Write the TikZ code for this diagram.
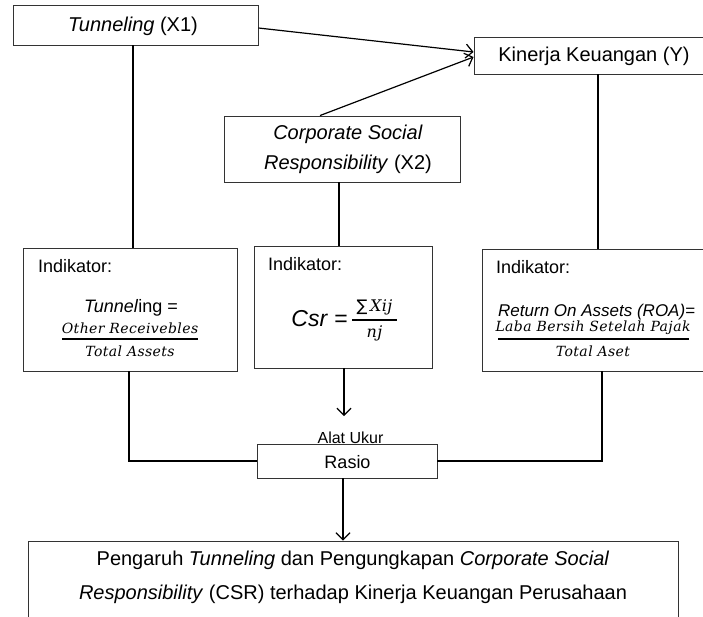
\documentclass[tikz,border=0pt]{standalone}
\usepackage{fontspec}
\setmainfont{Liberation Sans}
\newfontfamily\mfont[LetterSpace=3]{DejaVu Serif}
\newfontfamily\symfont{DejaVu Sans}
\usetikzlibrary{arrows.meta}
\begin{document}
\begin{tikzpicture}[x=1pt,y=-1pt,
 box/.style={draw=black!80,line width=0.9pt,inner sep=0pt,rectangle},
 conn/.style={line width=1.2pt,black},
 arr/.style={conn,-{Straight Barb[length=7pt,width=14pt,line width=1.2pt]}},
 bar/.style={line width=1.5pt,black},
 txt/.style={inner sep=0pt,font=\fontsize{20}{24}\selectfont},
 ind/.style={inner sep=0pt,anchor=west,font=\fontsize{18}{22}\selectfont},
 mth/.style={inner sep=0pt,font=\fontsize{14}{17}\mfont\itshape}]
\useasboundingbox (0,0) rectangle (703,616);
% boxes
\node[box,minimum width=245pt,minimum height=40pt] (tun) at (135.5,25) {};
\node[txt] (tunt) at (133,26) {\textit{Tunneling} (X1)};
\node[box,minimum width=230pt,minimum height=37pt] (kin) at (589,55.5) {};
\node[txt] (kint) at (594,56) {Kinerja Keuangan (Y)};
\node[box,minimum width=236pt,minimum height=66pt] (csr) at (342,149) {};
\node[txt,align=center,font=\fontsize{20}{30}\selectfont] (csrt) at (348,149) {\textit{Corporate Social}\\\textit{Responsibility} (X2)};
\node[box,minimum width=214pt,minimum height=123pt] (b1) at (130,309.5) {};
\node[box,minimum width=178pt,minimum height=122pt] (b2) at (343,307) {};
\node[box,minimum width=222pt,minimum height=122pt] (b3) at (593,310) {};
\node[box,minimum width=180pt,minimum height=34pt] (ras) at (347,461) {};
\node[txt,font=\fontsize{18}{22}\selectfont] (rast) at (347.5,462) {Rasio};
\node[box,minimum width=650pt,minimum height=90pt] (fin) at (353,586) {};
\node[txt,align=center,font=\fontsize{20}{34}\selectfont] (fint) at (353,577) {Pengaruh \textit{Tunneling} dan Pengungkapan \textit{Corporate Social}\\\textit{Responsibility} (CSR) terhadap Kinerja Keuangan Perusahaan};
% box 1 content
\node[ind] (i1) at (38,266) {Indikator:};
\node[inner sep=0pt,font=\fontsize{18}{22}\selectfont] (f1a) at (131,308) {\textit{Tunnel}ing =};
\node[mth] (n1) at (130,328) {Other Receivebles};
\node[mth] (d1) at (130,351) {Total Assets};
\draw[bar] (62,339) -- (198,339);
% box 2 content
\node[ind] (i2) at (268,264) {Indikator:};
\node[inner sep=0pt,anchor=east,font=\fontsize{23}{28}\selectfont] (f2a) at (348,319) {\textit{Csr} =};
\node[mth,font=\fontsize{16}{19}\mfont\itshape] (n2) at (374.5,307) {{\symfont\upshape\fontsize{16}{19}\selectfont ∑}\,Xij};
\node[mth,font=\fontsize{16}{19}\mfont\itshape] (d2) at (374.5,333) {nj};
\draw[bar] (352,320) -- (397,320);
% box 3 content
\node[ind] (i3) at (496,267) {Indikator:};
\node[inner sep=0pt,anchor=west,font=\fontsize{17}{20}\selectfont] (f3a) at (498,312) {\textit{Return On Assets (ROA)}=};
\node[mth] (n3) at (593,328) {Laba Bersih Setelah Pajak};
\node[mth] (d3) at (593,351) {Total Aset};
\draw[bar] (498,339) -- (689,339);
% label
\node[inner sep=0pt,font=\fontsize{16}{20}\selectfont] (alat) at (350.5,438) {Alat Ukur};
% connectors
\draw[arr] ([yshift=-3pt]tun.east) -- ([yshift=3.5pt]kin.west);
\draw[arr] ([xshift=-22pt]csr.north) -- ([yshift=-1.5pt]kin.west);
\draw[conn] ([xshift=-2.5pt]tun.south) -- ([xshift=-2.5pt]tun.south |- b1.north);
\draw[conn] ([xshift=9pt]kin.south) -- ([xshift=9pt]kin.south |- b3.north);
\draw[conn] ([xshift=-3pt]csr.south) -- ([xshift=-3pt]csr.south |- b2.north);
\coordinate (a1) at (344,416);
\draw[arr] (b2.south -| a1) -- (a1);
\draw[conn] ([xshift=-1pt]b1.south) |- (ras.west);
\draw[conn] ([xshift=9pt]b3.south) |- (ras.east);
\draw[arr] ([xshift=-4pt]ras.south) -- ([xshift=-4pt]ras.south |- fin.north);
\end{tikzpicture}
\end{document}
